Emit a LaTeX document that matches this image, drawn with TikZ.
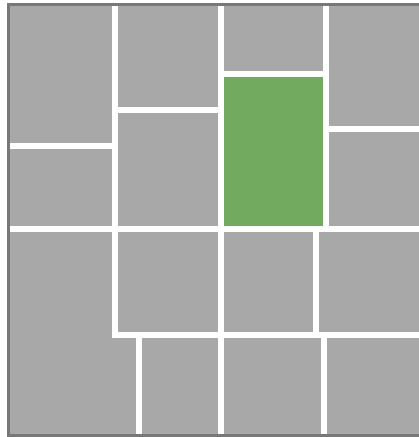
\documentclass[tikz,border=0pt]{standalone}
\usepackage{tikz}
\definecolor{tilegray}{RGB}{168,168,168}
\definecolor{edgegray}{RGB}{120,120,120}
\definecolor{tilegreen}{RGB}{114,170,96}
\tikzset{
  gap/.style={draw=white,line width=6.5pt,line cap=rect},
  frameline/.style={draw=edgegray,line width=3pt}
}

\begin{document}
\begin{tikzpicture}[x=1pt,y=-1pt]
    \useasboundingbox[fill=white] (0,0) rectangle (419,437);
    \fill[tilegray] (8,4) rectangle (419,435);
    \fill[tilegreen] (221,74) rectangle (326,229);
    % joints between the tiles
    \foreach \a/\b in {{115,4}/{115,335},{8,146}/{115,146},{115,110}/{221,110},
        {221,4}/{221,435},{221,74}/{326,74},{326,4}/{326,229},{326,129}/{419,129},
        {8,229}/{419,229},{316,229}/{316,335},{115,335}/{419,335},
        {139,335}/{139,435},{324,335}/{324,435}}
      \path[gap] (\a) -- (\b);
    \path[frameline] (419,4) -- (8,4) -- (8,435) -- (419,435);
  \end{tikzpicture}
\end{document}
